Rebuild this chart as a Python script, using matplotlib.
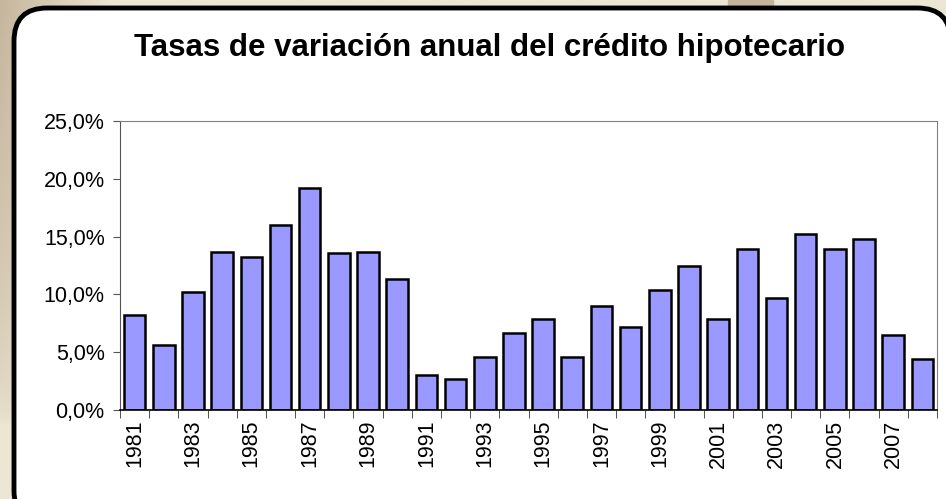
import numpy as np
import matplotlib.pyplot as plt
from matplotlib.patches import FancyBboxPatch, Rectangle

# annual growth of mortgage credit (%)
years = list(range(1981, 2009))
rates = [8.2, 5.6, 10.2, 13.7, 13.2, 16.0, 19.2, 13.6, 13.7, 11.3,
         3.0, 2.7, 4.6, 6.7, 7.9, 4.6, 9.0, 7.2, 10.4, 12.5,
         7.9, 13.9, 9.7, 15.2, 13.9, 14.8, 6.5, 4.4]
yticks = [0, 5, 10, 15, 20, 25]
ytick_labels = ["0,0%", "5,0%", "10,0%", "15,0%", "20,0%", "25,0%"]

W, H = 946, 499
fig = plt.figure(figsize=(W / 100, H / 100), dpi=100)
fig.patch.set_facecolor("#ECE6D5")

# tan background on the left, fading up
bg = fig.add_axes([0, 0, 1, 1], zorder=-2)
bg.axis("off")
yy, xx = np.mgrid[0:1:200j, 0:1:400j]
t = np.clip((0.12 - xx) / 0.12, 0, 1) * np.clip((0.85 - yy) / 0.85, 0, 1) ** 0.5
c1 = np.array([0xEC, 0xE6, 0xD5]) / 255
c2 = np.array([0xC6, 0xB6, 0x9E]) / 255
img = c1 + (c2 - c1) * t[..., None]
bg.imshow(img, extent=[0, 1, 0, 1], aspect="auto", origin="upper")
bg.add_patch(Rectangle((728 / W, 1 - 7 / H), 45 / W, 7 / H, color="#C4B49C"))
bg.set_xlim(0, 1)
bg.set_ylim(0, 1)

# white rounded panel
panel = FancyBboxPatch((14 / W, -0.05), 0.99, 1 - 8 / H + 0.05,
                       boxstyle="round,pad=0,rounding_size=0.035",
                       transform=fig.transFigure, facecolor="white",
                       edgecolor="black", linewidth=3.5, zorder=-1,
                       mutation_aspect=W / H)
fig.patches.append(panel)

fig.text(490 / W, 1 - 48 / H, "Tasas de variación anual del crédito hipotecario",
         ha="center", va="center", fontsize=22.5, fontweight="bold",
         family="Liberation Sans")

ax = fig.add_axes([120 / W, (H - 410) / H, (937 - 120) / W, (410 - 121) / H])
ax.set_facecolor("white")
x = np.arange(len(years))
ax.bar(x, rates, width=0.74, color="#9999FF", edgecolor="black", linewidth=1.8)

ax.set_xlim(-0.5, len(years) - 0.5)
ax.set_ylim(0, 25)
ax.set_yticks(yticks)
ax.set_yticklabels(ytick_labels, family="Liberation Sans", fontsize=15.5)
ax.tick_params(axis="y", direction="out", length=5, color="#555555", pad=6)

ax.set_xticks(x[::2])
ax.set_xticklabels([str(y) for y in years[::2]], rotation=90,
                   family="Liberation Sans", fontsize=15.5)
ax.tick_params(axis="x", length=0, pad=7)
ax.set_xticks(np.arange(-0.5, len(years)), minor=True)
ax.tick_params(axis="x", which="minor", direction="out", length=6,
               color="#333333")

for side in ["top", "right", "left"]:
    ax.spines[side].set_color("#808080")
ax.spines["left"].set_color("#555555")
ax.spines["bottom"].set_color("black")
ax.spines["bottom"].set_linewidth(1.2)

fig.savefig("out.png", dpi=100, facecolor=fig.get_facecolor())
